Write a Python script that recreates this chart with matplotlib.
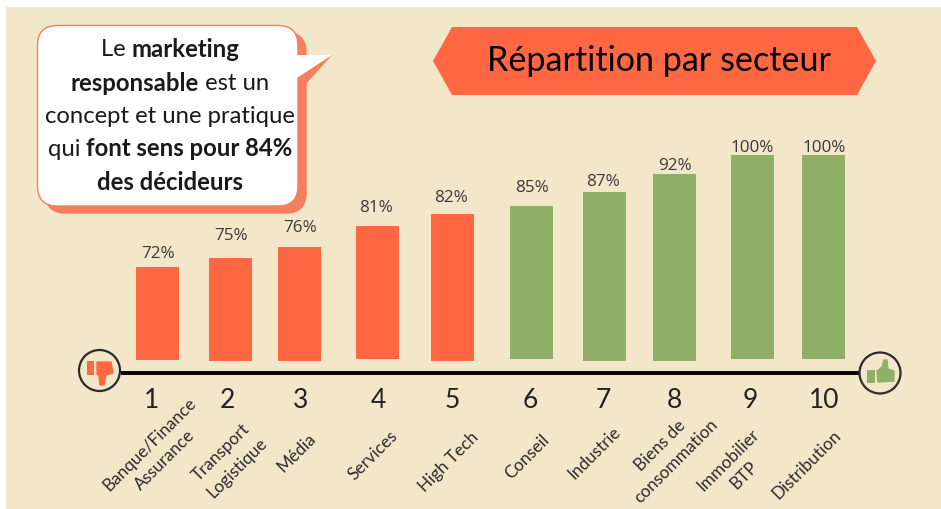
import matplotlib
matplotlib.use('Agg')
import matplotlib.pyplot as plt
from matplotlib.patches import FancyBboxPatch, Polygon, Circle, Rectangle

# Data
numbers = ['1', '2', '3', '4', '5', '6', '7', '8', '9', '10']
sectors = ['Banque/Finance\nAssurance', 'Transport\nLogistique', 'Média', 'Services', 'High Tech',
           'Conseil', 'Industrie', 'Biens de\nconsommation', 'Immobilier\nBTP', 'Distribution']
value_labels = ['72%', '75%', '76%', '81%', '82%', '85%', '87%', '92%', '100%', '100%']
# drawn heights do not follow the labels exactly in the original
bar_heights = [93, 103.5, 114, 133, 147.5, 153, 169, 187, 204, 204]

# Layout in pixels
W, H = 941, 509
centers = [157.5, 230.5, 299.5, 378, 452.5, 532, 604.5, 674.5, 752.5, 823.5]
bar_base = [360, 361, 361, 359, 361, 359, 361, 361, 359, 359]
val_x = [158, 231, 300, 376, 451, 532, 603, 675, 752, 824]
val_y = [254.5, 236.5, 227.5, 207.5, 198.5, 188.5, 181.5, 165.5, 147.5, 147.5]
num_x = [152, 227, 301, 378, 452, 530, 603, 674, 750, 824]
label_x = [157, 229, 297, 373, 449, 527, 594, 668, 736, 807]
label_y = [452, 460, 453, 455, 462, 457, 453, 453, 468, 465]

RED = '#ff6842'
GREEN = '#8fae66'
BEIGE = '#f3e7c9'
SHADOW = '#f47f5f'
FONT = 'Lato'

fig = plt.figure(figsize=(W / 100, H / 100), dpi=100)
ax = fig.add_axes([0, 0, 1, 1])
ax.set_xlim(0, W)
ax.set_ylim(H, 0)
ax.axis('off')

ax.add_patch(Rectangle((6.5, 6.5), W, H, color=BEIGE, lw=0, zorder=0))

# bars grow upward from the baseline, so the inverted y axis needs negative heights
colors = [RED] * 5 + [GREEN] * 5
ax.bar(centers, [-h for h in bar_heights], width=43, bottom=bar_base, color=colors, zorder=2)
for x, y, t in zip(val_x, val_y, value_labels):
    ax.text(x, y, t, ha='center', va='center', fontsize=12.3, family='Open Sans', color='#3a3a3a')

# axis line and end icons
ax.plot([121, 860], [373, 373], color='black', lw=2.8, zorder=2, solid_capstyle='butt')
ax.add_patch(Circle((99.5, 370.5), 20.5, fc=BEIGE, ec='#2b2b2b', lw=1.6, zorder=3))
ax.add_patch(Circle((880, 373), 20.5, fc=BEIGE, ec='#2b2b2b', lw=1.6, zorder=3))
ax.add_patch(Rectangle((87, 361), 7, 14, color=RED, lw=0, zorder=4))
ax.add_patch(Polygon([(97, 362), (111, 362), (113, 373), (106, 375), (104, 385), (100, 385), (99, 376), (97, 374)],
                     fc=RED, ec=RED, lw=1, joinstyle='round', zorder=4))
ax.add_patch(Rectangle((867, 370), 8, 13, color=GREEN, lw=0, zorder=4))
ax.add_patch(Polygon([(877, 371), (882, 367), (884, 360), (887, 360), (888, 369), (894, 371), (894, 381), (878, 382)],
                     fc=GREEN, ec=GREEN, lw=1, joinstyle='round', zorder=4))

for x, t in zip(num_x, numbers):
    ax.text(x, 400.5, t, ha='center', va='center', fontsize=19, family=FONT, color='#222222')
for x, y, t in zip(label_x, label_y, sectors):
    ax.text(x, y, t, ha='center', va='center', rotation=45, rotation_mode='anchor', fontsize=12.3,
            family=FONT, color='#2b2b2b', linespacing=1.45)

# title banner
ax.add_patch(Polygon([(433, 61), (452, 27), (857, 27), (876, 61), (857, 95), (452, 95)], color=RED, lw=0, zorder=2))
ax.text(659, 60.5, 'Répartition par secteur', ha='center', va='center', fontsize=24.6, family=FONT, color='black', zorder=3)

# speech bubble
for dx, dy, fc in [(8, 7, SHADOW), (0, 0, 'white')]:
    ax.add_patch(FancyBboxPatch((37.5 + dx, 25.5 + dy), 260.5, 180.5, boxstyle='round,pad=0,rounding_size=20',
                                fc=fc, ec=SHADOW, lw=1, zorder=4))
ax.add_patch(Polygon([(298, 55), (332, 55), (306, 84), (298, 84)], color=SHADOW, lw=0, zorder=4))
ax.add_patch(Polygon([(297, 55), (332, 55), (297, 78)], color='white', lw=0, zorder=5))

lines = [[('Le ', 'normal'), ('marketing', 'bold')],
         [('responsable', 'bold'), (' est un', 'normal')],
         [('concept et une pratique', 'normal')],
         [('qui ', 'normal'), ('font sens pour 84%', 'bold')],
         [('des décideurs', 'bold')]]
line_y = [49, 83, 116, 149, 183]
rend = fig.canvas.get_renderer()
for y, parts in zip(line_y, lines):
    # measure the pieces first so that each mixed line stays centred
    widths = []
    for s, w in parts:
        t = ax.text(0, 0, s.replace(' ', '\u00a0'), fontsize=17.2, family=FONT, weight=w)
        widths.append(t.get_window_extent(rend).width)
        t.remove()
    x = 170 - sum(widths) / 2
    for (s, w), wd in zip(parts, widths):
        ax.text(x, y, s.replace(' ', '\u00a0'), fontsize=17.2, family=FONT, weight=w, va='center', ha='left',
                color='#1a1a1a', zorder=6)
        x += wd

fig.savefig('out.png', dpi=100, facecolor='white')
